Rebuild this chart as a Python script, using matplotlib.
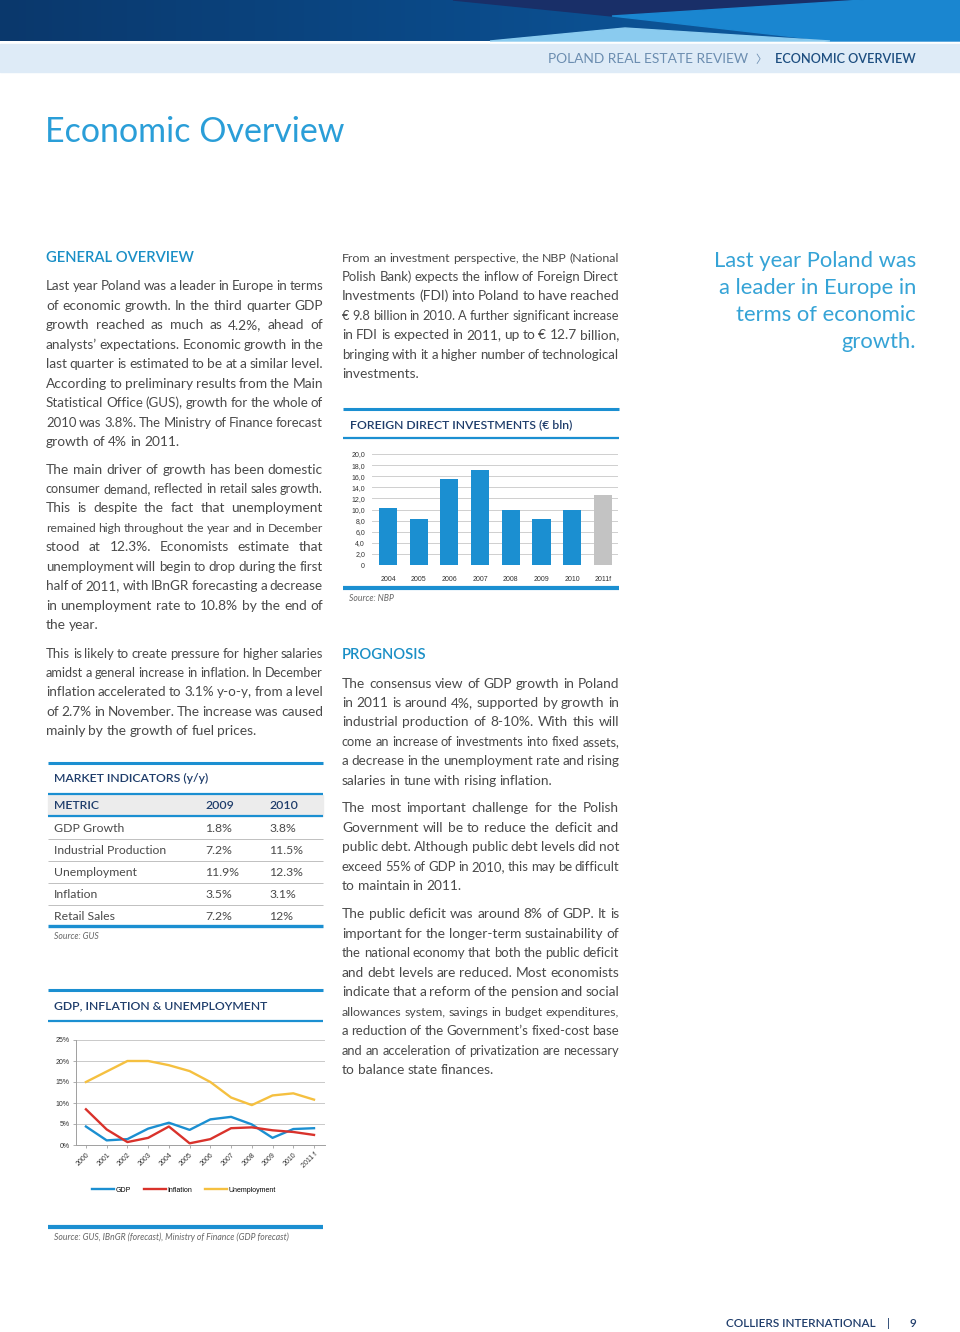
import matplotlib
matplotlib.use("Agg")
import matplotlib.pyplot as plt
import numpy as np
from matplotlib.colors import LinearSegmentedColormap
from matplotlib.patches import Polygon, Rectangle

W, H = 960, 1332
BODY = ["Lato", "DejaVu Sans"]
CHART = ["Liberation Sans", "DejaVu Sans"]
BLUE, RED, YELLOW, GREY_BAR = "#1b8fd1", "#d9322b", "#f5c040", "#c3c3c3"
NAVY, TEAL, TXT = "#1f3d6b", "#1a8fc6", "#4a4a4a"

# --- données -------------------------------------------------------------
fdi_years = ["2004", "2005", "2006", "2007", "2008", "2009", "2010", "2011f"]
fdi_values = [10.2, 8.2, 15.5, 17.1, 9.9, 8.3, 9.9, 12.7]
fdi_forecast = [False] * 7 + [True]

years = ["2000", "2001", "2002", "2003", "2004", "2005", "2006", "2007",
         "2008", "2009", "2010", "2011 f"]
gdp = [4.4, 1.1, 1.4, 3.9, 5.3, 3.6, 6.1, 6.7, 4.9, 1.7, 3.8, 4.0]
inflation = [8.5, 3.7, 0.7, 1.7, 4.4, 0.4, 1.4, 4.0, 4.2, 3.5, 3.1, 2.4]
unemployment = [15.0, 17.5, 20.0, 20.0, 19.0, 17.6, 15.0, 11.3, 9.5, 11.8, 12.3, 10.8]

table_metrics = ["GDP Growth", "Industrial Production", "Unemployment", "Inflation", "Retail Sales"]
table_2009 = ["1.8%", "7.2%", "11.9%", "3.5%", "7.2%"]
table_2010 = ["3.8%", "11.5%", "12.3%", "3.1%", "12%"]

P1 = ["Last year Poland was a leader in Europe in terms",
      "of economic growth. In the third quarter GDP",
      "growth reached as much as 4.2%, ahead of",
      "analysts’ expectations. Economic growth in the",
      "last quarter is estimated to be at a similar level.",
      "According to preliminary results from the Main",
      "Statistical Office (GUS), growth for the whole of",
      "2010 was 3.8%. The Ministry of Finance forecast",
      "growth of 4% in 2011."]
P2 = ["The main driver of growth has been domestic",
      "consumer demand, reflected in retail sales growth.",
      "This is despite the fact that unemployment",
      "remained high throughout the year and in December",
      "stood at 12.3%. Economists estimate that",
      "unemployment will begin to drop during the first",
      "half of 2011, with IBnGR forecasting a decrease",
      "in unemployment rate to 10.8% by the end of",
      "the year."]
P3 = ["This is likely to create pressure for higher salaries",
      "amidst a general increase in inflation. In December",
      "inflation accelerated to 3.1% y-o-y, from a level",
      "of 2.7% in November. The increase was caused",
      "mainly by the growth of fuel prices."]
P4 = ["From an investment perspective, the NBP (National",
      "Polish Bank) expects the inflow of Foreign Direct",
      "Investments (FDI) into Poland to have reached",
      "€ 9.8 billion in 2010. A further significant increase",
      "in FDI is expected in 2011, up to € 12.7 billion,",
      "bringing with it a higher number of technological",
      "investments."]
P5 = ["The consensus view of GDP growth in Poland",
      "in 2011 is around 4%, supported by growth in",
      "industrial production of 8-10%. With this will",
      "come an increase of investments into fixed assets,",
      "a decrease in the unemployment rate and rising",
      "salaries in tune with rising inflation."]
P6 = ["The most important challenge for the Polish",
      "Government will be to reduce the deficit and",
      "public debt. Although public debt levels did not",
      "exceed 55% of GDP in 2010, this may be difficult",
      "to maintain in 2011."]
P7 = ["The public deficit was around 8% of GDP. It is",
      "important for the longer-term sustainability of",
      "the national economy that both the public deficit",
      "and debt levels are reduced. Most economists",
      "indicate that a reform of the pension and social",
      "allowances system, savings in budget expenditures,",
      "a reduction of the Government’s fixed-cost base",
      "and an acceleration of privatization are necessary",
      "to balance state finances."]
QUOTE = ["Last year Poland was", "a leader in Europe in", "terms of economic", "growth."]

fig = plt.figure(figsize=(W / 100, H / 100), dpi=100)
page = fig.add_axes([0, 0, 1, 1])
page.set_xlim(0, W); page.set_ylim(H, 0); page.axis("off")
R = fig.canvas.get_renderer()


def px_axes(x0, y0, x1, y1):
    return fig.add_axes([x0 / W, 1 - y1 / H, (x1 - x0) / W, (y1 - y0) / H])


def rule(x0, x1, y, lw=2.2, color=BLUE):
    page.plot([x0, x1], [y, y], color=color, lw=lw, solid_capstyle="butt")


def paragraph(lines, x, y0, width=277, size=9.9, lh=19.45):
    for i, line in enumerate(lines):
        yb = y0 + i * lh + 4.5
        last = i == len(lines) - 1
        words = line.split(" ")
        arts = [page.text(0, yb, w, fontsize=size, color=TXT, family=BODY, va="baseline")
                for w in words]
        wid = [a.get_window_extent(R).width for a in arts]
        n = len(words)
        if last:
            gap = size * 0.3
        else:
            gap = (width - sum(wid)) / max(n - 1, 1)
            if gap < 2.4:
                s = (width - 2.6 * (n - 1)) / sum(wid)
                for a in arts:
                    a.set_fontsize(size * s)
                wid = [a.get_window_extent(R).width for a in arts]
                gap = (width - sum(wid)) / max(n - 1, 1)
        cx = x
        for a, w in zip(arts, wid):
            a.set_x(cx)
            cx += w + gap


# --- bandeau -------------------------------------------------------------
cmap = LinearSegmentedColormap.from_list("hdr", ["#0a386c", "#0b4b8a", "#0e5fa6"])
page.imshow(np.linspace(0, 1, 256)[None, :], cmap=cmap, aspect="auto",
            extent=(0, W, 41, 0), zorder=0)
page.add_patch(Polygon([(453, 0), (864, 0), (612, 16)], color="#192f68", zorder=1))
page.add_patch(Polygon([(612, 16), (864, 0), (960, 0), (960, 41), (830, 41)],
                       color="#1a86d0", zorder=1))
page.add_patch(Polygon([(490, 41), (625, 28), (830, 41)], color="#8acbef", zorder=1))
page.add_patch(Rectangle((0, 44), W, 28, color="#deebf7", zorder=0))
page.set_xlim(0, W); page.set_ylim(H, 0)
page.text(748, 63, "POLAND REAL ESTATE REVIEW", ha="right", va="baseline",
          fontsize=9.9, color="#6b8db0", family=BODY)
page.text(761, 63, "〉", ha="center", va="baseline", fontsize=8, color="#6b8db0",
          family=["Noto Sans CJK JP", "DejaVu Sans"])
page.text(916, 63, "ECONOMIC OVERVIEW", ha="right", va="baseline",
          fontsize=9.2, color="#1d4e80", family=BODY, fontweight="semibold")

page.text(45, 142, "Economic Overview", fontsize=24.5, color="#2a9ed8",
          family=BODY, va="baseline")

# --- colonne gauche ------------------------------------------------------
page.text(46, 262, "GENERAL OVERVIEW", fontsize=10.6, color=TEAL, family=BODY,
          fontweight="semibold", va="baseline")
paragraph(P1, 46, 286)
paragraph(P2, 46, 469)
paragraph(P3, 46, 653)

# tableau
rule(48, 323, 763)
page.text(54, 782, "MARKET INDICATORS (y/y)", fontsize=8.8, color=NAVY, family=BODY,
          fontweight="semibold", va="baseline")
rule(48, 323, 794, lw=1.6)
page.add_patch(Rectangle((48, 795), 275, 21, color="#ececec", zorder=0))
for txt, x in [("METRIC", 54), ("2009", 205), ("2010", 269)]:
    page.text(x, 809, txt, fontsize=8.8, color=NAVY, family=BODY,
              fontweight="semibold", va="baseline")
rule(48, 323, 816, lw=1.6)
for i, (m, a, b) in enumerate(zip(table_metrics, table_2009, table_2010)):
    yb = 832 + i * 21.9
    for txt, x in [(m, 54), (a, 205), (b, 269)]:
        page.text(x, yb, txt, fontsize=8.8, color=TXT, family=BODY, va="baseline")
    if i < len(table_metrics) - 1:
        rule(48, 323, 839 + i * 21.9, lw=0.6, color="#b5b5b5")
rule(48, 323, 926, lw=2.4)
page.text(54, 939, "Source: GUS", fontsize=6.2, color="#666666", family=BODY,
          style="italic", va="baseline")

# graphique PIB / inflation / chômage
rule(48, 323, 990)
page.text(54, 1009, "GDP, INFLATION & UNEMPLOYMENT", fontsize=8.8, color=NAVY,
          family=BODY, fontweight="semibold", va="baseline")
rule(48, 323, 1021, lw=1.6)

ax = px_axes(76, 1040, 325, 1145)
x = np.arange(len(years))
ax.plot(x, gdp, color=BLUE, lw=1.7, label="GDP")
ax.plot(x, inflation, color=RED, lw=1.7, label="Inflation")
ax.plot(x, unemployment, color=YELLOW, lw=1.7, label="Unemployment")
ax.set_xlim(-0.48, len(years) - 0.47)
ax.set_ylim(0, 25)
ax.set_yticks(range(0, 26, 5))
ax.set_yticklabels([f"{v}%" for v in range(0, 26, 5)])
ax.set_xticks(x)
ax.set_xticklabels(years, rotation=45, ha="right", rotation_mode="anchor")
ax.grid(axis="y", color="#c9c9c9", lw=0.7)
ax.set_axisbelow(True)
for s in ["top", "right"]:
    ax.spines[s].set_visible(False)
for s in ["left", "bottom"]:
    ax.spines[s].set_color("#a0a0a0"); ax.spines[s].set_linewidth(0.7)
ax.tick_params(labelsize=5, colors="#333333", length=2.5, width=0.6, pad=2)
ax.tick_params(axis="both", color="#a0a0a0")
for lab in ax.get_xticklabels() + ax.get_yticklabels():
    lab.set_family(CHART)
ax.set_facecolor("none")
ax.legend(loc="center", bbox_to_anchor=(184 / W, 1 - 1190 / H), bbox_transform=fig.transFigure,
          ncol=3, frameon=False, prop={"family": CHART, "size": 5}, handlelength=3.2,
          handletextpad=0.2, columnspacing=1.8)

rule(48, 323, 1227, lw=3)
page.text(54, 1240, "Source: GUS, IBnGR (forecast), Ministry of Finance (GDP forecast)",
          fontsize=6.2, color="#666666", family=BODY, style="italic", va="baseline")

# --- colonne centrale ----------------------------------------------------
paragraph(P4, 342, 257)
rule(343, 619, 409)
page.text(350, 428, "FOREIGN DIRECT INVESTMENTS (€ bln)", fontsize=8.8, color=NAVY,
          family=BODY, fontweight="semibold", va="baseline")
rule(343, 619, 438, lw=1.6)

bx = px_axes(372, 454, 618, 565)
xb = np.arange(len(fdi_years))
bx.bar(xb, fdi_values, width=0.59,
       color=[GREY_BAR if f else BLUE for f in fdi_forecast], zorder=2)
bx.set_xlim(-0.52, len(fdi_years) - 0.51)
bx.set_ylim(0, 20)
bx.set_yticks(range(0, 21, 2))
bx.set_yticklabels(["0"] + [f"{v},0" for v in range(2, 21, 2)])
bx.set_xticks(xb)
bx.set_xticklabels(fdi_years)
bx.grid(axis="y", color="#cfcfcf", lw=0.7)
for s in bx.spines.values():
    s.set_visible(False)
bx.tick_params(labelsize=5, colors="#333333", length=0, pad=5)
bx.tick_params(axis="x", pad=8)
for lab in bx.get_xticklabels() + bx.get_yticklabels():
    lab.set_family(CHART)
bx.set_facecolor("none")

rule(343, 619, 588, lw=3)
page.text(349, 601, "Source: NBP", fontsize=6.2, color="#666666", family=BODY,
          style="italic", va="baseline")

page.text(342, 659, "PROGNOSIS", fontsize=10.6, color=TEAL, family=BODY,
          fontweight="semibold", va="baseline")
paragraph(P5, 342, 683)
paragraph(P6, 342, 808)
paragraph(P7, 342, 914)

# --- citation ------------------------------------------------------------
for i, line in enumerate(QUOTE):
    page.text(916, 267 + i * 27, line, ha="right", va="baseline", fontsize=15.8,
              color="#35a3d6", family=BODY)

# --- pied de page --------------------------------------------------------
page.text(876, 1327, "COLLIERS INTERNATIONAL", ha="right", va="baseline", fontsize=8.5,
          color=NAVY, family=BODY, fontweight="semibold")
page.text(889, 1327, "|", ha="center", va="baseline", fontsize=8.5, color=NAVY, family=BODY)
page.text(913, 1327, "9", ha="center", va="baseline", fontsize=8.5, color=NAVY,
          family=BODY, fontweight="semibold")

fig.savefig("out.png", dpi=100)
